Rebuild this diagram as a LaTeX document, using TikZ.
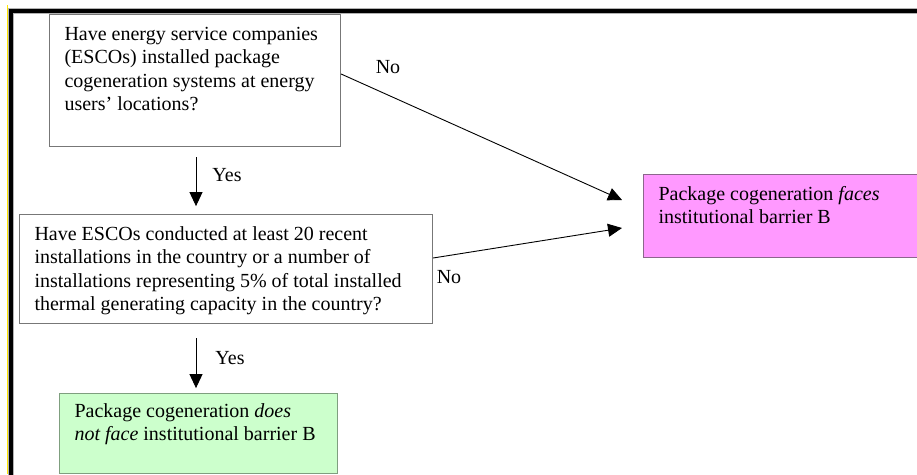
\documentclass[tikz,border=0pt]{standalone}
\usepackage{fontspec}
\setmainfont{Liberation Serif}
\usetikzlibrary{arrows.meta,calc}
\definecolor{pinkfill}{HTML}{FF99FF}
\definecolor{pinkline}{HTML}{8C668C}
\definecolor{greenfill}{HTML}{CCFFCC}
\definecolor{greenline}{HTML}{7F9F7F}
\definecolor{boxline}{HTML}{777777}
\definecolor{frameyellow}{HTML}{FFE600}
\newcommand\boxtxt[4]{\parbox[c][#2][t]{#1}{\leftskip=15pt\rightskip=0pt plus 1fil\parindent=0pt\rule{0pt}{#3}#4}}
\tikzset{
  qbox/.style={draw=boxline, line width=1.1pt, inner sep=0pt, anchor=north west, font=\fontsize{20}{23.3}\selectfont},
  pinkbox/.style={qbox, draw=pinkline, fill=pinkfill},
  greenbox/.style={qbox, draw=greenline, fill=greenfill},
  arr/.style={draw=black, line width=0.9pt, -{Triangle[length=14pt,width=13pt]}},
  lbl/.style={font=\fontsize{20}{23.3}\selectfont, inner sep=0pt}
}
\begin{document}
\begin{tikzpicture}[x=1pt,y=-1pt]
\clip (0,0) rectangle (917,474);
\fill[white] (0,0) rectangle (917,474);
% frame
\draw[frameyellow, line width=1pt] (7.3,5) -- (7.3,474);
\draw[gray!60, line width=5.5pt] (11,480) -- (11,11) -- (930,11);
\draw[black, line width=3.7pt] (11,480) -- (11,11) -- (930,11);
% boxes
\node[qbox] (q1) at (49,14) {\boxtxt{291pt}{132pt}{26pt}{Have energy service companies\\(ESCOs) installed package\\cogeneration systems at energy\\users’ locations?}};
\node[qbox] (q2) at (19,214) {\boxtxt{413pt}{109pt}{26pt}{Have ESCOs conducted at least 20 recent\\installations in the country or a number of\\installations representing 5\% of total installed\\thermal generating capacity in the country?}};
\node[pinkbox] (pk) at (643,174) {\boxtxt{290pt}{83pt}{26pt}{Package cogeneration \textit{faces}\\institutional barrier B}};
\node[greenbox] (gr) at (59,393) {\boxtxt{278pt}{80pt}{24pt}{Package cogeneration \textit{does}\\\textit{not face} institutional barrier B}};
% connectors
\coordinate (y1s) at ($(q1.south west)+(147,10)$);
\coordinate (y1e) at ($(q1.south west)+(147,59)$);
\draw[arr] (y1s) -- (y1e);
\coordinate (y2s) at ($(q2.south west)+(177,14)$);
\coordinate (y2e) at ($(q2.south west)+(177,64)$);
\draw[arr] (y2s) -- (y2e);
\coordinate (n1s) at ($(q1.north east)+(0,60)$);
\coordinate (n1e) at ($(pk.north west)+(-21,26)$);
\draw[arr] (n1s) -- (n1e);
\coordinate (n2s) at ($(q2.north east)+(0,44)$);
\coordinate (n2e) at ($(pk.north west)+(-21,54)$);
\draw[arr] (n2s) -- (n2e);
% labels
\node[lbl] (ly1) at (227,175) {Yes};
\node[lbl] (ly2) at (230,358) {Yes};
\node[lbl] (ln1) at (388,67) {No};
\node[lbl] (ln2) at (449,277) {No};
\end{tikzpicture}
\end{document}
